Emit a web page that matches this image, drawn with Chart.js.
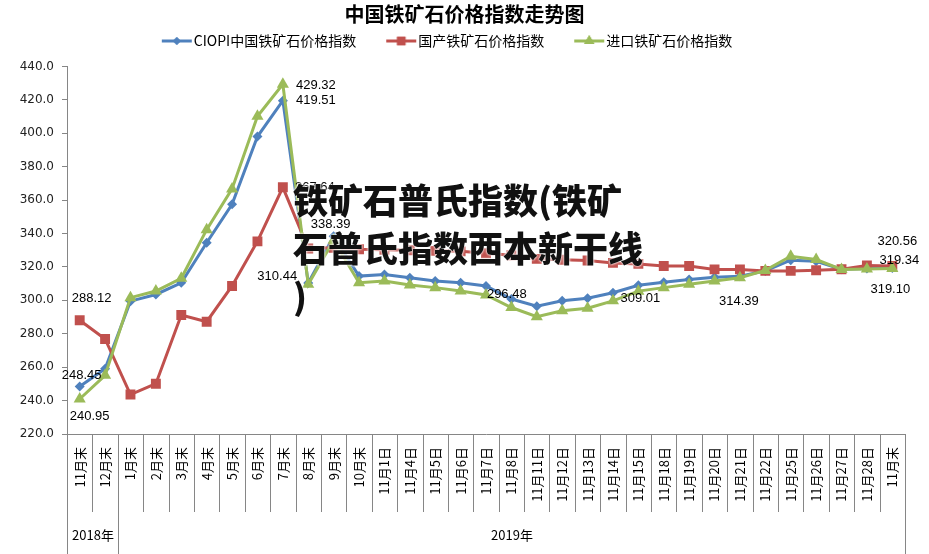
<!DOCTYPE html>
<html lang="zh">
<head>
<meta charset="UTF-8">
<title>中国铁矿石价格指数走势图</title>
<script src="https://cdn.jsdelivr.net/npm/chart.js"></script>
<style>
  html, body { margin: 0; padding: 0; background: #fff; }
  #wrap { position: relative; width: 929px; height: 554px; }
  #overlay {
    position: absolute; left: 293px; top: 175px;
    font-family: "Noto Sans CJK SC"; font-weight: 900; font-size: 35px; line-height: 48px;
    color: #111; white-space: nowrap; pointer-events: none;
    text-shadow: 0 0 2px #fff, 0 0 3px #fff;
  }
</style>
</head>
<body>
<div id="wrap">
  <canvas id="chart" width="929" height="554"></canvas>
  <div id="overlay">铁矿石普氏指数(铁矿<br>石普氏指数西本新干线<br>)</div>
</div>
<script>
// 横轴类别
const labels = ['11月末', '12月末', '1月末', '2月末', '3月末', '4月末', '5月末', '6月末', '7月末', '8月末', '9月末', '10月末',
  '11月1日', '11月4日', '11月5日', '11月6日', '11月7日', '11月8日', '11月11日', '11月12日', '11月13日', '11月14日',
  '11月15日', '11月18日', '11月19日', '11月20日', '11月21日', '11月22日', '11月25日', '11月26日', '11月27日', '11月28日', '11月末'];

// 年份分组（起止类别序号）
const yearNames = ['2018年', '2019年'];
const yearStart = [0, 2];
const yearEnd = [1, 32];

// 三个指数
const seriesNames = ['CIOPI中国铁矿石价格指数', '国产铁矿石价格指数', '进口铁矿石价格指数'];
const ciopi = [248.45, 259.0, 299.5, 303.5, 310.5, 334.5, 357.5, 398.0, 419.51, 310.44, 338.39, 314.5,
  315.5, 313.5, 311.6, 310.5, 308.6, 300.8, 296.48, 299.7, 301.3, 304.5, 309.01, 310.8, 312.4, 313.8,
  314.39, 317.6, 324.0, 323.4, 318.6, 319.0, 319.34];
const domestic = [288.12, 276.9, 243.6, 250.1, 291.2, 287.2, 308.6, 335.3, 367.64, 331.0, 331.5, 330.6,
  330.2, 330.0, 329.6, 329.3, 328.2, 327.0, 324.8, 324.3, 323.8, 322.4, 321.8, 320.5, 320.5, 318.5,
  318.5, 317.6, 317.6, 318.0, 318.6, 320.9, 320.56];
const imported = [240.95, 255.1, 301.6, 305.6, 313.2, 342.3, 366.7, 410.2, 429.32, 309.6, 336.0, 310.5,
  311.6, 309.2, 307.6, 305.6, 303.2, 295.7, 290.2, 293.7, 295.3, 299.7, 305.5, 307.6, 309.6, 311.6,
  313.5, 317.9, 326.4, 324.4, 318.5, 318.8, 319.10];

// 显示数值标签的点（序号）
const ciopiLabelled = [0, 8, 9, 10, 18, 22, 26, 32];
const domesticLabelled = [0, 8, 32];
const importedLabelled = [0, 8, 32];

const colors = ['#4F81BD', '#C0504D', '#9BBB59'];
const markers = ['rectRot', 'rect', 'triangle'];
const markerSize = [5, 7, 7];

// 标签相对数据点的偏移
const labelShift = {
  '0-0': [2, -11], '0-8': [33, 0], '0-9': [-31, -6], '0-10': [-3, -12], '0-18': [-30, -12],
  '0-22': [2, 13], '0-26': [-1, 25], '0-32': [7, -8],
  '1-0': [12, -22], '1-8': [32, 0], '1-32': [5, -25],
  '2-0': [10, 17], '2-8': [33, 1], '2-32': [-2, 21]
};

// 图例图标：线+标记（比图例框宽，线靠右）
function legendIcon(i) {
  const c = document.createElement('canvas');
  c.width = 64; c.height = 14;
  const g = c.getContext('2d');
  g.strokeStyle = colors[i]; g.fillStyle = colors[i]; g.lineWidth = 3;
  g.beginPath(); g.moveTo(32, 7); g.lineTo(62, 7); g.stroke();
  Chart.helpers.drawPoint(g, { pointStyle: markers[i], radius: markerSize[i] - 1, borderWidth: 0 }, 47, 7);
  g.fill();
  return c;
}

const axisGray = '#868686';

const decorations = {
  id: 'decorations',
  afterLayout(chart) {
    // 标题居中于整个画布，图例略偏左，与原图一致
    chart.titleBlock.right += 24;
    chart.legend.right -= 36;
  },
  afterDraw(chart) {
    const { ctx, chartArea } = chart;
    const xs = chart.scales.x;
    const step = (chartArea.right - chartArea.left) / labels.length;
    const edge = i => Math.round(xs.getPixelForValue(i) - step / 2) + 0.5;
    ctx.save();
    ctx.strokeStyle = axisGray;
    ctx.lineWidth = 1;
    ctx.beginPath();
    for (let i = 0; i <= labels.length; i++) {
      ctx.moveTo(edge(i), chartArea.bottom);
      ctx.lineTo(edge(i), chartArea.bottom + 78);
    }
    yearStart.forEach(s => { ctx.moveTo(edge(s), chartArea.bottom); ctx.lineTo(edge(s), chart.height); });
    ctx.moveTo(edge(labels.length), chartArea.bottom);
    ctx.lineTo(edge(labels.length), chart.height);
    ctx.stroke();

    ctx.fillStyle = '#000';
    ctx.font = '13px "Noto Sans CJK SC"';
    ctx.textAlign = 'center';
    ctx.textBaseline = 'middle';
    yearNames.forEach((t, k) => {
      const cx = (edge(yearStart[k]) + edge(yearEnd[k] + 1)) / 2;
      ctx.fillText(t, cx, chartArea.bottom + 101);
    });
    ctx.restore();
  },
  afterDatasetsDraw(chart) {
    const { ctx } = chart;
    const picks = [ciopiLabelled, domesticLabelled, importedLabelled];
    ctx.save();
    ctx.fillStyle = '#000';
    ctx.font = '13px "Liberation Sans"';
    ctx.textAlign = 'center';
    ctx.textBaseline = 'middle';
    picks.forEach((idx, d) => {
      const meta = chart.getDatasetMeta(d);
      idx.forEach(i => {
        const p = meta.data[i];
        const s = labelShift[d + '-' + i] || [0, -12];
        ctx.fillText(chart.data.datasets[d].data[i].toFixed(2), p.x + s[0], p.y + s[1]);
      });
    });
    ctx.restore();
  }
};

const allSeries = [ciopi, domestic, imported];
const drawOrder = [3, 2, 1];

new Chart(document.getElementById('chart'), {
  type: 'line',
  data: {
    labels: labels,
    datasets: allSeries.map((values, i) => ({
      label: seriesNames[i],
      data: values,
      borderColor: colors[i],
      backgroundColor: colors[i],
      borderWidth: 3,
      pointStyle: markers[i],
      pointRadius: markerSize[i],
      pointBorderWidth: 0,
      tension: 0,
      order: drawOrder[i]
    }))
  },
  options: {
    responsive: false,
    animation: false,
    layout: { padding: { left: 0, right: 24, top: 0, bottom: 0 } },
    plugins: {
      title: {
        display: true,
        text: '中国铁矿石价格指数走势图',
        color: '#000',
        font: { family: '"Noto Sans CJK SC"', size: 20, weight: 'bold' },
        padding: { top: 2, bottom: 3 }
      },
      // 图例与绘图区之间的空隙
      subtitle: {
        display: true,
        text: '',
        weight: 500,
        font: { size: 7 },
        padding: 0
      },
      legend: {
        labels: {
          usePointStyle: true,
          pointStyleWidth: 50,
          padding: 5,
          color: '#000',
          font: { family: '"Noto Sans CJK SC"', size: 14 },
          generateLabels: chart => chart.data.datasets.map((ds, i) => ({
            text: ds.label,
            pointStyle: legendIcon(i),
            fillStyle: ds.borderColor,
            strokeStyle: ds.borderColor,
            lineWidth: 0,
            hidden: false,
            datasetIndex: i,
            fontColor: '#000'
          }))
        }
      },
      tooltip: { enabled: false }
    },
    scales: {
      x: {
        offset: true,
        grid: { display: false, drawTicks: false },
        border: { color: axisGray },
        ticks: {
          autoSkip: false, minRotation: 90, maxRotation: 90, padding: 13,
          color: '#000', font: { family: '"Noto Sans CJK SC"', size: 13 }
        },
        afterFit: s => { s.height = 120; }
      },
      y: {
        min: 220, max: 440,
        grid: { drawOnChartArea: false, color: axisGray, tickLength: 5 },
        border: { color: axisGray },
        ticks: {
          stepSize: 20, padding: 8, color: '#222',
          font: { family: '"DejaVu Sans"', size: 12 },
          callback: v => v.toFixed(1)
        },
        afterFit: s => { s.width = 67; }
      }
    }
  },
  plugins: [decorations]
});
</script>
</body>
</html>
